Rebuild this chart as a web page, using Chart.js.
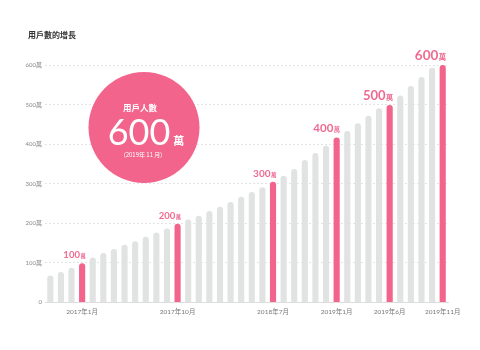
<!DOCTYPE html>
<html>
<head>
<meta charset="utf-8">
<script src="https://cdn.jsdelivr.net/npm/chart.js@4/dist/chart.umd.min.js"></script>
<style>
  html, body { margin: 0; padding: 0; background: #ffffff; }
  #wrap { width: 480px; height: 350px; }
</style>
</head>
<body>
<div id="wrap"><canvas id="c" width="480" height="350"></canvas></div>
<script>
// ---- data ----
const title = '用戶數的增長';
const months = [
  '2016年10月','2016年11月','2016年12月',
  '2017年1月','2017年2月','2017年3月','2017年4月','2017年5月','2017年6月',
  '2017年7月','2017年8月','2017年9月','2017年10月','2017年11月','2017年12月',
  '2018年1月','2018年2月','2018年3月','2018年4月','2018年5月','2018年6月',
  '2018年7月','2018年8月','2018年9月','2018年10月','2018年11月','2018年12月',
  '2019年1月','2019年2月','2019年3月','2019年4月','2019年5月','2019年6月',
  '2019年7月','2019年8月','2019年9月','2019年10月','2019年11月'
];
const users = [
  68, 77, 88,
  99, 114, 125, 135, 146, 155,
  166, 177, 187, 199, 210, 219,
  231, 242, 254, 267, 279, 291,
  305, 320, 337, 360, 378, 396,
  417, 433, 453, 472, 491, 499,
  523, 547, 570, 593, 600
];
const milestoneMonths = ['2017年1月','2017年10月','2018年7月','2019年1月','2019年6月','2019年11月'];
const milestoneLabels = ['100', '200', '300', '400', '500', '600'];
const unit = '萬';
const yTicks = [0, 100, 200, 300, 400, 500, 600];
const badgeTitle = '用戶人數';
const badgeValue = '600';
const badgeDate = '(2019年 11 月)';

// ---- styles ----
const PINK = '#f2648c';
const GREY = '#e1e3e3';
const LABEL_PINK = '#ef6a91';
const FONT = "Lato, 'Noto Sans CJK TC', sans-serif";
const labelSizes = [9.5, 9.5, 10, 11.5, 13, 13.5];

const barColors = months.map(m => milestoneMonths.includes(m) ? PINK : GREY);

const overlay = {
  id: 'overlay',
  afterDatasetsDraw(chart) {
    const ctx = chart.ctx;
    const meta = chart.getDatasetMeta(0);
    ctx.save();
    // milestone labels
    milestoneMonths.forEach((m, k) => {
      const i = months.indexOf(m);
      const bar = meta.data[i];
      const sz = labelSizes[k];
      const usz = sz * 0.55;
      ctx.fillStyle = LABEL_PINK;
      ctx.textBaseline = 'alphabetic';
      ctx.font = `bold ${usz}px 'Noto Sans CJK TC', sans-serif`;
      const uw = ctx.measureText(unit).width;
      ctx.font = `bold ${sz}px ${FONT}`;
      const dw = ctx.measureText(milestoneLabels[k]).width;
      const right = bar.x + 3.5;
      const base = bar.y - 5;
      ctx.textAlign = 'left';
      ctx.fillText(milestoneLabels[k], right - uw - dw - 0.5, base);
      ctx.font = `bold ${usz}px 'Noto Sans CJK TC', sans-serif`;
      ctx.fillText(unit, right - uw, base);
    });
    // badge circle
    const a = chart.chartArea;
    const cx = a.left + 99, cy = a.top + 62.5, r = 55.5;
    ctx.beginPath();
    ctx.arc(cx, cy, r, 0, Math.PI * 2);
    ctx.fillStyle = PINK;
    ctx.fill();
    ctx.fillStyle = '#ffffff';
    ctx.textAlign = 'center';
    ctx.textBaseline = 'middle';
    ctx.font = `bold 8.5px 'Noto Sans CJK TC', sans-serif`;
    ctx.fillText(badgeTitle, cx - 4, cy - 19.5);
    ctx.textBaseline = 'alphabetic';
    ctx.font = `36px ${FONT}`;
    const vw = ctx.measureText(badgeValue).width;
    ctx.font = `bold 11px 'Noto Sans CJK TC', sans-serif`;
    const vu = ctx.measureText(unit).width;
    const total = vw + 3 + vu;
    const sx = cx + 2 - total / 2;
    ctx.textAlign = 'left';
    ctx.font = `36px ${FONT}`;
    ctx.fillText(badgeValue, sx, cy + 17.5);
    ctx.font = `bold 11px 'Noto Sans CJK TC', sans-serif`;
    ctx.fillText(unit, sx + vw + 3, cy + 17.5);
    ctx.textAlign = 'center';
    ctx.textBaseline = 'middle';
    ctx.font = `6px 'Noto Sans CJK TC', sans-serif`;
    ctx.fillText(badgeDate, cx - 1, cy + 27.5);
    // title
    ctx.fillStyle = '#333333';
    ctx.textAlign = 'left';
    ctx.textBaseline = 'middle';
    ctx.font = `bold 8px 'Noto Sans CJK TC', sans-serif`;
    ctx.fillText(title, 28, 35);
    ctx.restore();
  }
};

new Chart(document.getElementById('c'), {
  type: 'bar',
  data: {
    labels: months,
    datasets: [{
      data: users,
      backgroundColor: barColors,
      borderRadius: { topLeft: 3, topRight: 3, bottomLeft: 0, bottomRight: 0 },
      borderSkipped: false,
      barPercentage: 0.58,
      categoryPercentage: 1
    }]
  },
  options: {
    responsive: false,
    devicePixelRatio: 1,
    animation: false,
    layout: { padding: { top: 65, right: 32, left: 0, bottom: 0 } },
    plugins: { legend: { display: false }, tooltip: { enabled: false } },
    scales: {
      x: {
        grid: { display: false, drawTicks: false },
        border: { display: true, color: '#dedede', width: 1 },
        ticks: {
          autoSkip: false,
          maxRotation: 0,
          minRotation: 0,
          padding: 6,
          color: '#777777',
          font: { size: 6.5, family: FONT },
          callback: (v, i) => milestoneMonths.includes(months[i]) ? months[i] : ''
        },
        afterFit: s => { s.height = 47.5; }
      },
      y: {
        min: 0,
        max: 600,
        afterBuildTicks: s => { s.ticks = yTicks.map(v => ({ value: v })); },
        grid: { color: '#e4e4e4', lineWidth: 1, drawTicks: false },
        border: { display: false, dash: [2, 2] },
        ticks: {
          padding: 3,
          color: '#888888',
          font: { size: 6, family: FONT },
          callback: v => v === 0 ? '0' : v + unit
        },
        afterFit: s => { s.width = 45; }
      }
    }
  },
  plugins: [overlay]
});
</script>
</body>
</html>
